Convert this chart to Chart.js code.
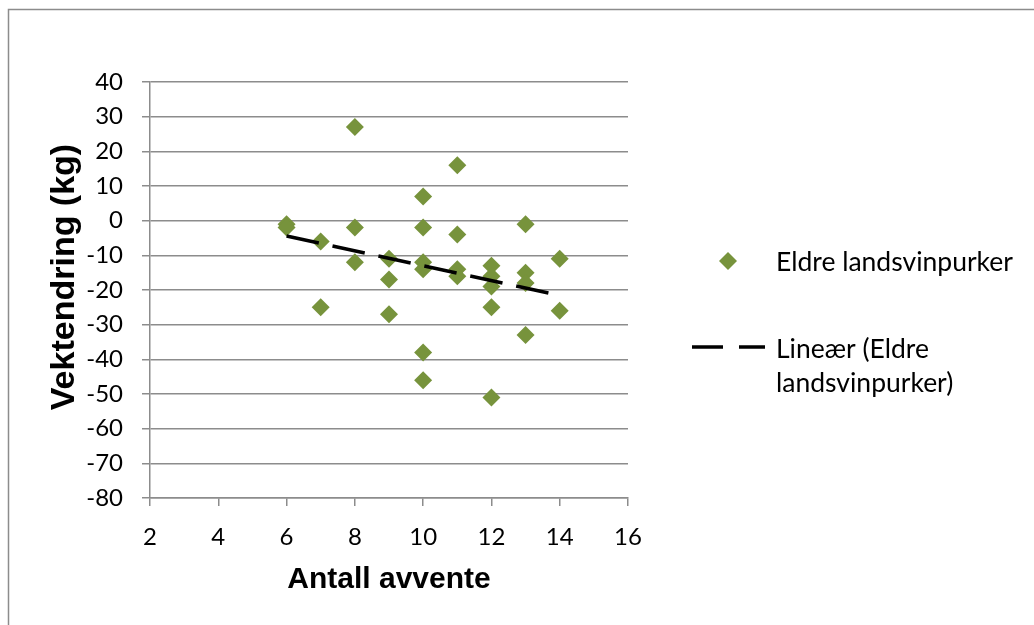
<!DOCTYPE html>
<html lang="no">
<head>
<meta charset="utf-8">
<title>Vektendring mot antall avvente</title>
<script src="https://cdn.jsdelivr.net/npm/chart.js@4.4.1/dist/chart.umd.min.js"></script>
<style>
    html, body { margin: 0; padding: 0; background: #fff; }
    #wrap { position: relative; width: 1034px; height: 625px; }
</style>
</head>
<body>
<div id="wrap">
    <canvas id="scatterChart" width="1034" height="625"></canvas>
</div>
<script>
// Observations: one x per point, matching y below
const antallAvvente = [
    6, 6,
    7, 7,
    8, 8, 8,
    9, 9, 9,
    10, 10, 10, 10, 10, 10,
    11, 11, 11, 11,
    12, 12, 12, 12, 12,
    13, 13, 13, 13,
    14, 14
];
const vektendring = [
    -1, -2,
    -6, -25,
    27, -2, -12,
    -11, -17, -27,
    7, -2, -12, -14, -38, -46,
    16, -4, -14, -16,
    -13, -16, -19, -25, -51,
    -1, -15, -18, -33,
    -11, -26
];

// Linear trendline end points
const trendX = [6, 14];
const trendY = [-4.4, -21.6];

// Axis ticks
const xTicks = [2, 4, 6, 8, 10, 12, 14, 16];
const yTicks = [-80, -70, -60, -50, -40, -30, -20, -10, 0, 10, 20, 30, 40];

const seriesName = 'Eldre landsvinpurker';
const trendName = ['Lineær (Eldre', 'landsvinpurker)'];
const xTitle = 'Antall avvente';
const yTitle = 'Vektendring (kg)';

const GREEN = '#77933C';
const GRID = '#8c8c8c';
const LABEL_FONT = 'Lato';
const TITLE_FONT = '"Liberation Sans", Arial, sans-serif';

let scatterChart = null;

/**
 * Frame, rotated y title and the legend on the right
 */
const decorPlugin = {
    id: 'decor',
    beforeDraw(chart) {
        const ctx = chart.ctx;
        ctx.save();
        ctx.strokeStyle = GRID;
        ctx.lineWidth = 1.5;
        ctx.strokeRect(8.5, 9.5, 1200, 800);
        ctx.restore();
    },
    afterDraw(chart) {
        const ctx = chart.ctx;
        const area = chart.chartArea;

        // y axis title
        ctx.save();
        ctx.translate(65, 277);
        ctx.rotate(-Math.PI / 2);
        ctx.font = 'bold 34px ' + TITLE_FONT;
        ctx.fillStyle = '#000';
        ctx.textAlign = 'center';
        ctx.textBaseline = 'middle';
        ctx.fillText(yTitle, 0, 0);
        ctx.restore();

        // legend
        const lx = area.right + 64;
        ctx.save();
        ctx.fillStyle = GREEN;
        const mx = lx + 36, my = 261, r = 9;
        ctx.beginPath();
        ctx.moveTo(mx, my - r);
        ctx.lineTo(mx + r, my);
        ctx.lineTo(mx, my + r);
        ctx.lineTo(mx - r, my);
        ctx.closePath();
        ctx.fill();

        ctx.strokeStyle = '#000';
        ctx.lineWidth = 3.5;
        ctx.setLineDash([31, 16]);
        ctx.beginPath();
        ctx.moveTo(lx, 347);
        ctx.lineTo(lx + 73, 347);
        ctx.stroke();
        ctx.setLineDash([]);

        ctx.fillStyle = '#000';
        ctx.font = '26.5px ' + LABEL_FONT;
        ctx.textAlign = 'left';
        ctx.textBaseline = 'middle';
        ctx.fillText(seriesName, lx + 84, 262);
        ctx.fillText(trendName[0], lx + 84, 349);
        ctx.fillText(trendName[1], lx + 84, 383);
        ctx.restore();
    }
};

/**
 * Build the scatter chart with its trendline
 */
function initializeScatterChart() {
    const ctx = document.getElementById('scatterChart');
    if (!ctx) {
        console.warn('Chart canvas not found');
        return;
    }

    const points = antallAvvente.map((x, i) => ({ x: x, y: vektendring[i] }));
    const trend = trendX.map((x, i) => ({ x: x, y: trendY[i] }));

    Chart.defaults.font.family = LABEL_FONT;
    Chart.defaults.color = '#000';

    const config = {
        type: 'scatter',
        data: {
            datasets: [
                {
                    label: seriesName,
                    data: points,
                    order: 1,
                    pointStyle: 'rectRot',
                    pointRadius: 9,
                    pointHoverRadius: 9,
                    backgroundColor: GREEN,
                    borderColor: GREEN,
                    borderWidth: 0
                },
                {
                    label: trendName.join(' '),
                    type: 'line',
                    data: trend,
                    order: 0,
                    showLine: true,
                    fill: false,
                    borderColor: '#000',
                    borderWidth: 3.5,
                    borderDash: [33, 14],
                    borderCapStyle: 'butt',
                    pointRadius: 0,
                    tension: 0
                }
            ]
        },
        options: {
            responsive: false,
            animation: false,
            devicePixelRatio: 1,
            layout: {
                padding: { left: 0, top: 82, right: 406, bottom: 0 }
            },
            plugins: {
                legend: { display: false },
                tooltip: { enabled: false }
            },
            scales: {
                x: {
                    type: 'linear',
                    min: xTicks[0],
                    max: xTicks[xTicks.length - 1],
                    afterFit: scale => { scale.height = 127; },
                    afterBuildTicks: scale => {
                        scale.ticks = xTicks.map(v => ({ value: v }));
                    },
                    grid: {
                        drawOnChartArea: false,
                        drawTicks: true,
                        tickLength: 8,
                        color: GRID,
                        lineWidth: 1.5
                    },
                    border: { display: true, color: GRID, width: 1.5 },
                    ticks: {
                        padding: 17,
                        font: { size: 24 },
                        color: '#000'
                    },
                    title: {
                        display: true,
                        text: xTitle,
                        color: '#000',
                        font: { family: TITLE_FONT, size: 30, weight: 'bold' },
                        padding: { top: 0, bottom: 27 }
                    }
                },
                y: {
                    type: 'linear',
                    min: yTicks[0],
                    max: yTicks[yTicks.length - 1],
                    afterFit: scale => { scale.width = 150; },
                    afterBuildTicks: scale => {
                        scale.ticks = yTicks.map(v => ({ value: v }));
                    },
                    grid: {
                        drawTicks: true,
                        tickLength: 8,
                        color: GRID,
                        lineWidth: 1.5
                    },
                    border: { display: true, color: GRID, width: 1.5 },
                    ticks: {
                        padding: 19,
                        font: { size: 24 },
                        color: '#000'
                    }
                }
            }
        },
        plugins: [decorPlugin]
    };

    scatterChart = new Chart(ctx, config);
}

document.addEventListener('DOMContentLoaded', function() {
    if (typeof Chart !== 'undefined') {
        initializeScatterChart();
    } else {
        console.warn('Chart.js not available');
    }
});
</script>
</body>
</html>
